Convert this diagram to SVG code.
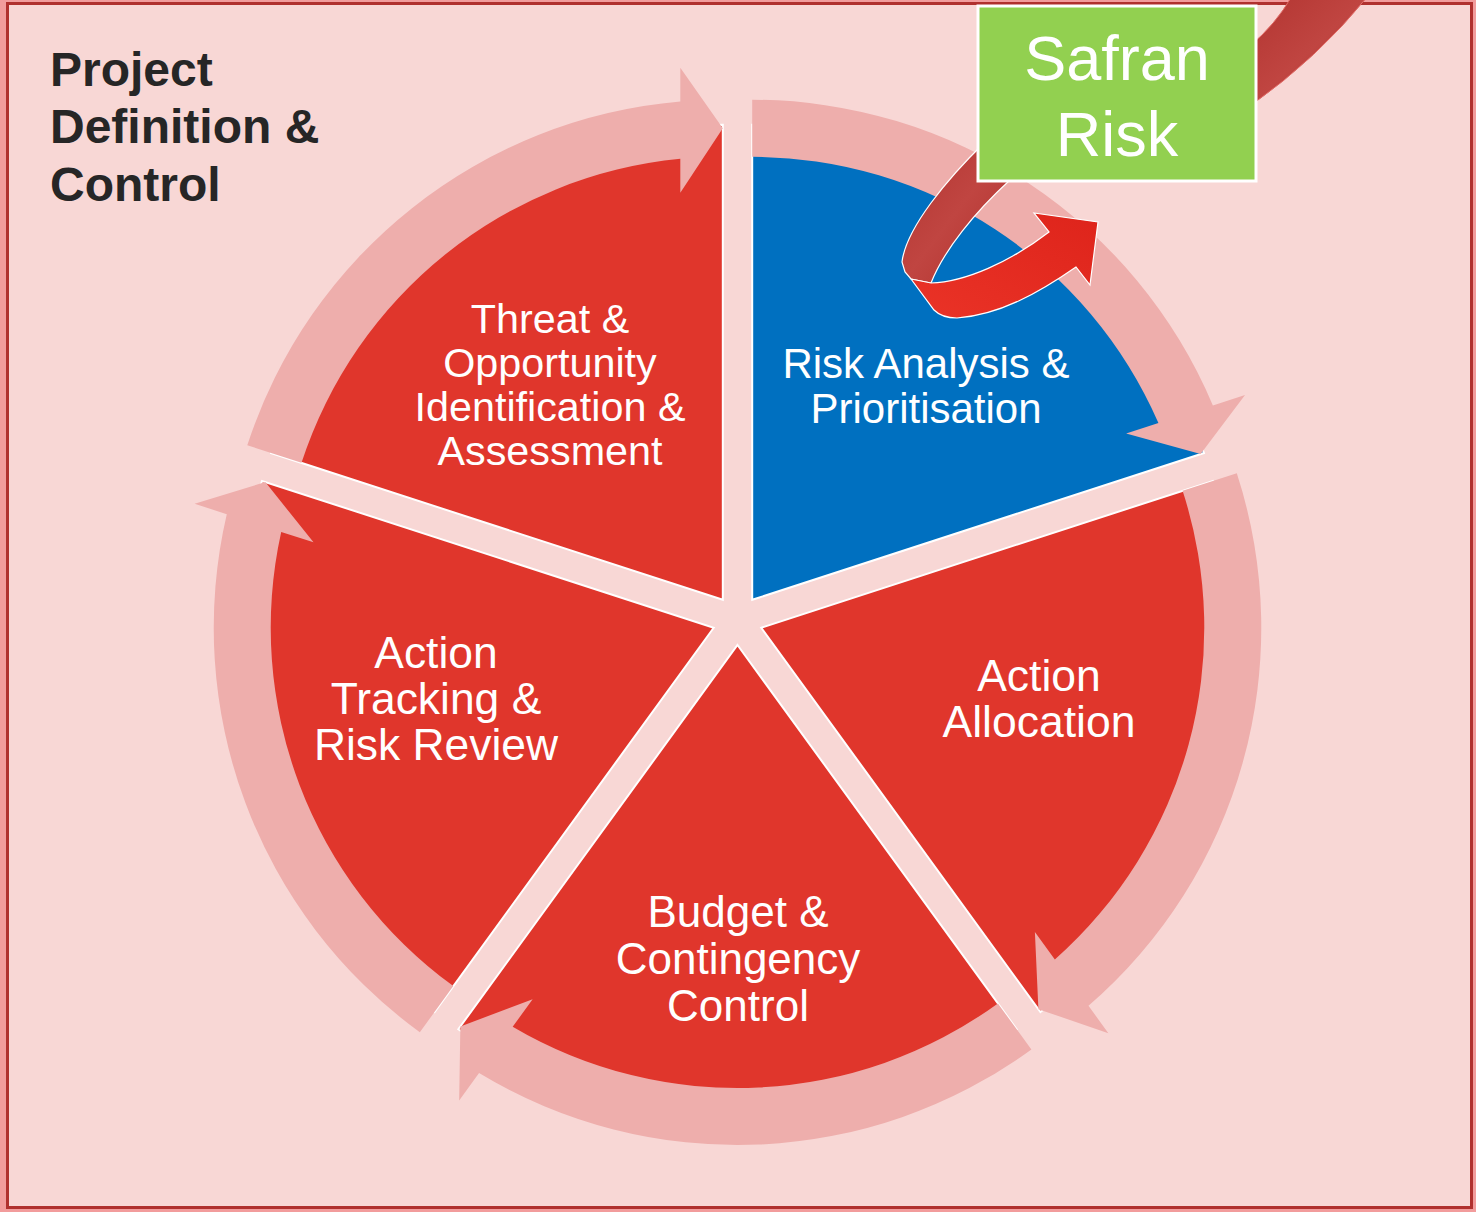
<svg xmlns="http://www.w3.org/2000/svg" width="1476" height="1212" viewBox="0 0 1476 1212">
  <defs>
    <path id="wedge" d="M0,0 L-451.75,-146.78 A475,475 0 0 1 0,-475 Z"/>
    <path id="ringArrow" d="M-475.53,-154.51 A500,500 0 0 1 -42.5,-498.19 L-42.5,-532 L0,-471.5 L-42.5,-407 L-42.5,-440.96 A443,443 0 0 0 -421.32,-136.9 Z"/>
    <linearGradient id="backRib" x1="0" y1="0" x2="1" y2="1">
      <stop offset="0" stop-color="#B23430"/>
      <stop offset="0.5" stop-color="#C04541"/>
      <stop offset="1" stop-color="#B0302C"/>
    </linearGradient>
    <linearGradient id="frontRib" x1="0" y1="1" x2="1" y2="0">
      <stop offset="0" stop-color="#EA3327"/>
      <stop offset="1" stop-color="#DE241B"/>
    </linearGradient>
  </defs>
  <style>
    .seg { fill: #E0362C; stroke: #FFFFFF; stroke-width: 2; stroke-linejoin: miter; }
    .seg.blue { fill: #0070C0; }
    .ring { fill: #EEAEAC; }
    .lbl { font-family: "Liberation Sans", Arial, sans-serif; fill: #FFFFFF; text-anchor: middle; }
    .title { font-family: "Liberation Sans", Arial, sans-serif; font-weight: bold; fill: #262626; font-size: 48px; }
  </style>

  <!-- background and frame -->
  <rect x="0" y="0" width="1476" height="1212" fill="#F29C9C"/>
  <rect x="7.5" y="3.5" width="1464" height="1204" fill="#F8D7D5" stroke="#B0302E" stroke-width="3"/>

  <g id="title">
    <text class="title" x="50" y="86">Project</text>
    <text class="title" x="50" y="143">Definition &amp;</text>
    <text class="title" x="50" y="201">Control</text>
  </g>

  <g id="node-threat">
    <use href="#wedge" class="seg" transform="translate(722.81 599.77)"/>
    <text class="lbl" font-size="41.3"><tspan x="550" y="333">Threat &amp;</tspan><tspan x="550" y="377">Opportunity</tspan><tspan x="550" y="421">Identification &amp;</tspan><tspan x="550" y="465">Assessment</tspan></text>
  </g>
  <g id="node-risk-analysis">
    <use href="#wedge" class="seg blue" transform="rotate(72 737.5 620) translate(722.81 599.77)"/>
    <text class="lbl" font-size="42"><tspan x="926" y="378">Risk Analysis &amp;</tspan><tspan x="926" y="423">Prioritisation</tspan></text>
  </g>
  <g id="node-action-allocation">
    <use href="#wedge" class="seg" transform="rotate(144 737.5 620) translate(722.81 599.77)"/>
    <text class="lbl" font-size="44.5"><tspan x="1039" y="691">Action</tspan><tspan x="1039" y="737">Allocation</tspan></text>
  </g>
  <g id="node-budget">
    <use href="#wedge" class="seg" transform="rotate(216 737.5 620) translate(722.81 599.77)"/>
    <text class="lbl" font-size="44"><tspan x="738" y="927">Budget &amp;</tspan><tspan x="738" y="974">Contingency</tspan><tspan x="738" y="1021">Control</tspan></text>
  </g>
  <g id="node-action-tracking">
    <use href="#wedge" class="seg" transform="rotate(288 737.5 620) translate(722.81 599.77)"/>
    <text class="lbl" font-size="44.4"><tspan x="436" y="668">Action</tspan><tspan x="436" y="714">Tracking &amp;</tspan><tspan x="436" y="760">Risk Review</tspan></text>
  </g>

  <g id="connectors">
    <use href="#ringArrow" class="ring" transform="translate(722.81 599.77)"/>
    <use href="#ringArrow" class="ring" transform="rotate(72 737.5 620) translate(722.81 599.77)"/>
    <use href="#ringArrow" class="ring" transform="rotate(144 737.5 620) translate(722.81 599.77)"/>
    <use href="#ringArrow" class="ring" transform="rotate(216 737.5 620) translate(722.81 599.77)"/>
    <use href="#ringArrow" class="ring" transform="rotate(288 737.5 620) translate(722.81 599.77)"/>
  </g>

  <g id="safran-ribbon">
    <path d="M1292,-4 L1368,-4 Q1318,58 1250,106 L1250,46 Q1276,24 1292,-4 Z" fill="url(#backRib)" stroke="#E06A66" stroke-width="1"/>
    <path d="M985,142 C948,178 906,228 902,262 L905,272 L911,279 L931,283 C944,250 975,212 1010,180 Z" fill="url(#backRib)" stroke="#FFFFFF" stroke-width="1.2"/>
    <path d="M911,279 L931,283 C965,282 1010,262 1049,232 L1034,213 L1098,222 L1090,285 L1076,267 C1040,292 1000,315 957,318 C945,318 939,315 934,310 Z" fill="url(#frontRib)" stroke="#FFFFFF" stroke-width="1.2" stroke-linejoin="miter"/>
  </g>

  <g id="node-safran">
    <rect x="978" y="6" width="278" height="175" fill="#92D050" stroke="#FFFFFF" stroke-width="3"/>
    <text class="lbl" font-size="63"><tspan x="1117" y="80">Safran</tspan><tspan x="1117" y="156">Risk</tspan></text>
  </g>
</svg>
